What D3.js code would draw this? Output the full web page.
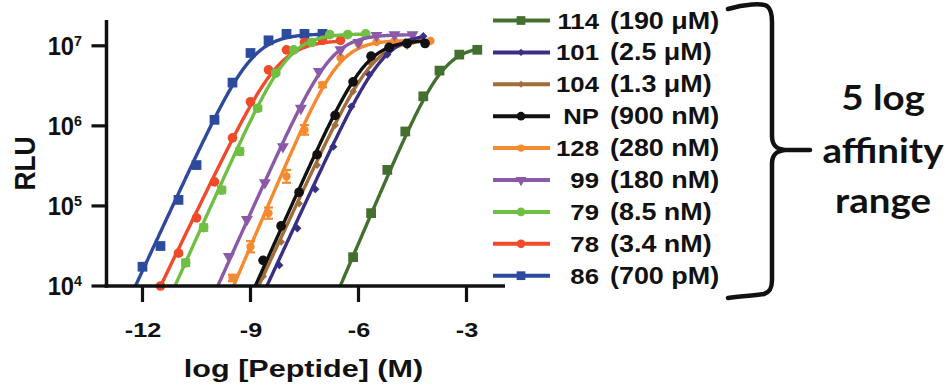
<!DOCTYPE html>
<html><head><meta charset="utf-8">
<script src="https://cdn.jsdelivr.net/npm/d3@7"></script>
<style>html,body{margin:0;padding:0;background:#fff;} svg{display:block;}</style>
</head><body><svg id="chart" width="948" height="389"></svg>
<script>
// ---------- data ----------
const seriesIds = ["114","101","104","NP","128","99","79","78","86"];
const seriesAffinity = ["(190 \u03BCM)","(2.5 \u03BCM)","(1.3 \u03BCM)","(900 nM)","(280 nM)","(180 nM)","(8.5 nM)","(3.4 nM)","(700 pM)"];
const xTicks = [-12, -9, -6, -3];
const yTicks = [1e4, 1e5, 1e6, 1e7];

// log [Peptide] (M) and RLU for each peptide
const x114 = [-6.15, -5.65, -5.2, -4.7, -4.2, -3.75, -3.2, -2.7];
const y114 = [2.29e4, 8.13e4, 2.82e5, 8.51e5, 2.34e6, 4.9e6, 7.76e6, 8.91e6];
const x101 = [-8.2, -7.7, -7.2, -6.7, -6.2, -5.7, -5.2, -4.7, -4.2];
const y101 = [1.82e4, 5.25e4, 1.62e5, 5.5e5, 1.74e6, 4.37e6, 7.76e6, 1.10e7, 1.32e7];
const x104 = [-8.65, -8.15, -7.65, -7.15, -6.65, -6.15, -5.65, -5.15, -4.65, -4.15];
const y104 = [1.32e4, 3.55e4, 1.07e5, 3.24e5, 1.02e6, 2.69e6, 6.03e6, 8.51e6, 1.0e7, 1.10e7];
const xNP = [-8.65, -8.15, -7.65, -7.15, -6.65, -6.15, -5.65, -5.15, -4.65, -4.15];
const yNP = [2.09e4, 5.62e4, 1.48e5, 4.37e5, 1.35e6, 3.55e6, 7.41e6, 9.55e6, 1.07e7, 1.07e7];
const x128 = [-9.5, -9.0, -8.5, -8.0, -7.5, -7.0, -6.5, -6.0, -5.5, -5.0, -4.5, -4.0];
const y128 = [1.26e4, 3.09e4, 8.13e4, 2.34e5, 8.91e5, 3.24e6, 7.08e6, 1.07e7, 1.12e7, 1.15e7, 1.15e7, 1.15e7];
const e128 = [0.04, 0.07, 0.07, 0.08, 0.06, 0.03, 0, 0, 0, 0, 0, 0];
const x99 = [-9.6, -9.1, -8.6, -8.1, -7.6, -7.1, -6.5, -6.0, -5.5, -5.0, -4.5];
const y99 = [2.34e4, 6.76e4, 1.95e5, 5.5e5, 1.66e6, 4.79e6, 8.91e6, 1.10e7, 1.35e7, 1.38e7, 1.38e7];
const x79 = [-10.8, -10.3, -9.8, -9.3, -8.8, -8.3, -7.8, -7.3, -6.8, -6.3, -5.8];
const y79 = [1.95e4, 5.37e4, 1.58e5, 4.79e5, 1.66e6, 4.57e6, 8.91e6, 1.10e7, 1.38e7, 1.38e7, 1.41e7];
const e79 = [0.04, 0.04, 0.04, 0.04, 0.03, 0.02, 0, 0, 0, 0, 0];
const x78 = [-11.5, -11.0, -10.5, -10.0, -9.5, -9.0, -8.5, -8.0, -7.5, -7.0, -6.5];
const y78 = [1.0e4, 2.57e4, 7.08e4, 2.0e5, 7.08e5, 2.0e6, 5.01e6, 8.91e6, 1.10e7, 1.17e7, 1.17e7];
const x86 = [-12.0, -11.5, -11.0, -10.5, -10.0, -9.5, -9.0, -8.5, -8.0, -7.5, -7.0];
const y86 = [1.74e4, 3.16e4, 1.19e5, 3.24e5, 1.19e6, 3.47e6, 8.13e6, 1.17e7, 1.41e7, 1.41e7, 1.41e7];

// fitted dose-response curves (legend order): top RLU, log EC50, Hill slope
const fitTop    = [1.0e7, 1.41e7, 1.2e7, 1.17e7, 1.17e7, 1.38e7, 1.41e7, 1.17e7, 1.41e7];
const fitLogEC50 = [-3.65, -5.3, -5.6, -5.8, -6.55, -6.77, -7.95, -8.2, -8.95];
const fitHill   = [1.05, 0.97, 0.97, 1.0, 1.05, 1.0, 1.0, 0.93, 0.97];

// ---------- styles ----------
const xData = [x114, x101, x104, xNP, x128, x99, x79, x78, x86];
const yData = [y114, y101, y104, yNP, y128, y99, y79, y78, y86];
const eData = [null, null, null, null, e128, null, e79, null, null];
const colors = ["#44702f", "#3a2f86", "#a06d3b", "#111111", "#f68a30", "#8a5aa9", "#6fbf43", "#ef4b2b", "#2e4a9c"];
const shapes = ["square", "diamond", "smalldiamond", "circle", "smallcircle", "triDown", "circle", "circle", "square"];
const drawOrder = [8, 7, 6, 4, 5, 2, 1, 3, 0];

const svg = d3.select("#chart");
const FONT = "'Liberation Sans', Arial, Helvetica, sans-serif";

const x = d3.scaleLinear().domain([-13, -2]).range([106.5, 502.5]);
const y = d3.scaleLog().domain([1e4, 2.1e7]).range([286, 20]);

function symPath(shape, scale) {
  const s = scale || 1;
  switch (shape) {
    case "square": return {d: d3.symbol(d3.symbolSquare, 95 * s)(), rot: 0};
    case "diamond": return {d: d3.symbol(d3.symbolSquare, 34 * s)(), rot: 45};
    case "smalldiamond": return {d: d3.symbol(d3.symbolSquare, 30 * s)(), rot: 45};
    case "circle": return {d: d3.symbol(d3.symbolCircle, 74 * s)(), rot: 0};
    case "smallcircle": return {d: d3.symbol(d3.symbolCircle, 54 * s)(), rot: 0};
    case "triDown": return {d: d3.symbol(d3.symbolTriangle, 62 * s)(), rot: 180};
  }
}

function txt(g, px, py, str, size, sx, anchor, family, weight) {
  return g.append("text")
    .attr("transform", `translate(${px},${py}) scale(${sx},1)`)
    .attr("text-anchor", anchor)
    .attr("font-family", family || FONT)
    .attr("font-weight", weight || "bold")
    .attr("font-size", size)
    .attr("fill", "#111")
    .text(str);
}

// clip for curves
svg.append("defs").append("clipPath").attr("id", "plotclip")
  .append("rect").attr("x", x(-13)).attr("y", 0).attr("width", x(-2) - x(-13) + 4).attr("height", y(1e4));

// ---------- curves and points ----------
const gPlot = svg.append("g");
drawOrder.forEach(i => {
  const xs = xData[i], ys = yData[i];
  const top = fitTop[i], ec = fitLogEC50[i], h = fitHill[i];
  const lastX = xs[xs.length - 1];
  const grid = d3.range(-13, lastX, 0.02).concat([lastX]);
  const curve = grid.map(v => [v, top / (1 + Math.pow(10, h * (ec - v)))]);
  gPlot.append("path")
    .attr("clip-path", "url(#plotclip)")
    .attr("d", d3.line().x(d => x(d[0])).y(d => y(d[1]))(curve))
    .attr("fill", "none").attr("stroke", colors[i]).attr("stroke-width", 3.4)
    .attr("stroke-linejoin", "round");
  const errs = eData[i];
  if (errs) {
    xs.forEach((v, k) => {
      if (!errs[k]) return;
      const yl = y(ys[k] / Math.pow(10, errs[k])), yh = y(ys[k] * Math.pow(10, errs[k]));
      const cx = x(v);
      const ge = gPlot.append("g").attr("stroke", colors[i]).attr("stroke-width", 2.2);
      ge.append("line").attr("x1", cx).attr("x2", cx).attr("y1", yl).attr("y2", yh);
      ge.append("line").attr("x1", cx - 4.5).attr("x2", cx + 4.5).attr("y1", yl).attr("y2", yl);
      ge.append("line").attr("x1", cx - 4.5).attr("x2", cx + 4.5).attr("y1", yh).attr("y2", yh);
    });
  }
  const sp = symPath(shapes[i]);
  xs.forEach((v, k) => {
    gPlot.append("path").attr("d", sp.d)
      .attr("transform", `translate(${x(v)},${y(ys[k])}) rotate(${sp.rot})`)
      .attr("fill", colors[i]);
  });
});

// ---------- axes ----------
const gAx = svg.append("g").attr("stroke", "#111").attr("stroke-linecap", "butt");
gAx.append("line").attr("x1", x(-13)).attr("x2", x(-13)).attr("y1", 20).attr("y2", y(1e4) + 1.75).attr("stroke-width", 3.5);
gAx.append("line").attr("x1", x(-13) - 1.75).attr("x2", 505).attr("y1", y(1e4)).attr("y2", y(1e4)).attr("stroke-width", 3.5);
yTicks.forEach(t => {
  gAx.append("line").attr("x1", x(-13) - 15).attr("x2", x(-13)).attr("y1", y(t)).attr("y2", y(t)).attr("stroke-width", 3.2);
});
xTicks.forEach(t => {
  gAx.append("line").attr("x1", x(t)).attr("x2", x(t)).attr("y1", y(1e4)).attr("y2", y(1e4) + 16).attr("stroke-width", 3.2);
});

// y tick labels 10^n
yTicks.forEach(t => {
  const e = Math.round(Math.log10(t));
  const tx = svg.append("text")
    .attr("transform", `translate(82,${y(t) + 9}) scale(0.95,1)`)
    .attr("text-anchor", "end").attr("font-family", FONT).attr("font-weight", "bold")
    .attr("font-size", 25).attr("fill", "#111");
  tx.append("tspan").text("10");
  tx.append("tspan").attr("font-size", 15).attr("dy", -9).text(e);
});
// x tick labels
xTicks.forEach(t => { txt(svg, x(t) + 0.5, 337, d3.format("d")(t).replace("\u2212", "-"), 21, 1.2, "middle"); });

// axis titles
svg.append("text")
  .attr("transform", "translate(35,163.5) rotate(-90) scale(0.88,1)")
  .attr("text-anchor", "middle").attr("font-family", FONT).attr("font-weight", "bold")
  .attr("font-size", 30).attr("fill", "#111").text("RLU");
txt(svg, 303.5, 377, "log [Peptide] (M)", 23.5, 1.3, "middle");

// ---------- legend ----------
const gLeg = svg.append("g");
seriesIds.forEach((id, i) => {
  const cy = 20.5 + i * 31.9;
  gLeg.append("line").attr("x1", 493).attr("x2", 550).attr("y1", cy).attr("y2", cy)
    .attr("stroke", colors[i]).attr("stroke-width", 4);
  const sp = symPath(shapes[i], 0.8);
  gLeg.append("path").attr("d", sp.d).attr("transform", `translate(521,${cy}) rotate(${sp.rot})`).attr("fill", colors[i]);
  txt(gLeg, 599, cy + 8, id, 23, 1.12, "end");
  txt(gLeg, 610, cy + 8, seriesAffinity[i], 23, 1.17, "start");
});

// ---------- brace and annotation ----------
svg.append("path")
  .attr("d", "M728,9 C745,4 762,3 767,6 C771,9 772,14 772,22 L772,136 C772,145 776,149 785,150 L810,150 M785,150 C776,151 772,155 772,164 L772,280 C772,288 770,292 764,294 C750,296 740,296 728,298")
  .attr("fill", "none").attr("stroke", "#111").attr("stroke-width", 4.5).attr("stroke-linecap", "round");
const noteFont = "Lato, 'Open Sans', sans-serif";
txt(svg, 883, 110, "5 log", 35, 1.1, "middle", noteFont);
txt(svg, 883, 163, "affinity", 35, 1.1, "middle", noteFont);
txt(svg, 883, 213, "range", 35, 1.1, "middle", noteFont);
</script>
</body></html>
